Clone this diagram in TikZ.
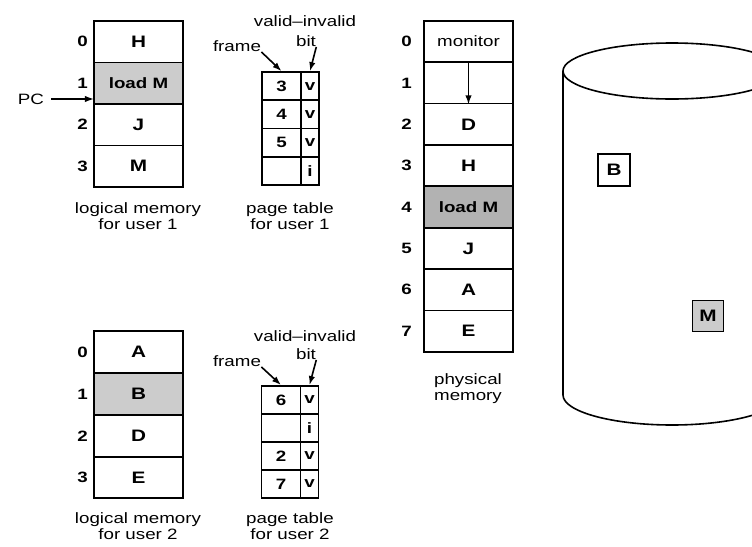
\documentclass[tikz,border=0pt]{standalone}
\usepackage{fontspec}
\setmainfont{Liberation Sans}[FakeStretch=1.25]
\usetikzlibrary{arrows.meta, positioning}

\begin{document}
\begin{tikzpicture}[
    x=0.5pt, y=-0.5pt,
    every node/.style={font=\fontsize{7.5}{8}\selectfont},
    cell/.style={draw, line width=0.8pt, minimum width=44.5pt, minimum height=20.75pt, inner sep=0pt, font=\fontsize{8.3}{9}\selectfont\bfseries},
    fcell/.style={draw, line width=0.8pt, minimum width=19.5pt, minimum height=14.15pt, inner sep=0pt, font=\fontsize{7.5}{8}\selectfont\bfseries},
    vcell/.style={fcell, minimum width=9pt},
    rowlbl/.style={anchor=east, inner sep=0pt, xshift=-2.5pt, font=\fontsize{7.5}{8}\selectfont\bfseries},
    caption/.style={align=center, inner sep=0pt},
    arr/.style={-{Latex[length=4.5pt,width=3.2pt]}, line width=0.8pt},
    shade/.style={fill=gray!40},
    dark/.style={fill=gray!60},
    smalltext/.style={font=\fontsize{7.5}{8}\selectfont\bfseries}
]
\useasboundingbox (0,0) rectangle (752,547);

% Logical memory, user 1
\node[cell] (u1r0) at (138.5,41.75) {H};
\node[cell, shade, smalltext] (u1r1) at (138.5,83.25) {load M};
\node[cell] (u1r2) at (138.5,124.75) {J};
\node[cell] (u1r3) at (138.5,166.25) {M};
\node[rowlbl] at (u1r0.west) {0}; \node[rowlbl] at (u1r1.west) {1};
\node[rowlbl] at (u1r2.west) {2}; \node[rowlbl] at (u1r3.west) {3};
\node[caption] (cap1) at (138,216) {logical memory\\for user 1};
% PC points at the loaded instruction
\node (pc) at (31,99) {PC};
\coordinate (pcin) at (94,99);
\draw[arr] (pc) -- (pcin);

% Page table, user 1
\node[fcell] (t1f0) at (281.5,86.1) {3};  \node[vcell] (t1v0) at (310,86.1) {v};
\node[fcell] (t1f1) at (281.5,114.4) {4}; \node[vcell] (t1v1) at (310,114.4) {v};
\node[fcell] (t1f2) at (281.5,142.6) {5}; \node[vcell] (t1v2) at (310,142.6) {v};
\node[fcell] (t1f3) at (281.5,170.9) {};  \node[vcell] (t1v3) at (310,170.9) {i};
\node[caption] (vi1) at (305,21) {valid–invalid};
\node[caption] (bit1) at (306,41) {bit};
\node[caption] (frm1) at (237,46) {frame};
\draw[arr] (frm1.south east) -- (t1f0.north);
\draw[arr] (bit1.south east) -- (t1v0.north);
\node[caption] (cap2) at (290,216) {page table\\for user 1};

% Physical memory
\node[cell, font=\fontsize{7.5}{8}\selectfont] (pm0) at (468.5,41.5) {monitor};
\node[cell] (pm1) at (468.5,82.9) {};
\node[cell] (pm2) at (468.5,124.3) {D};
\node[cell] (pm3) at (468.5,165.6) {H};
\node[cell, dark, smalltext] (pm4) at (468.5,207) {load M};
\node[cell] (pm5) at (468.5,248.4) {J};
\node[cell] (pm6) at (468.5,289.8) {A};
\node[cell] (pm7) at (468.5,331.1) {E};
\node[rowlbl, xshift=-3pt] at (pm0.west) {0}; \node[rowlbl, xshift=-3pt] at (pm1.west) {1};
\node[rowlbl, xshift=-3pt] at (pm2.west) {2}; \node[rowlbl, xshift=-3pt] at (pm3.west) {3};
\node[rowlbl, xshift=-3pt] at (pm4.west) {4}; \node[rowlbl, xshift=-3pt] at (pm5.west) {5};
\node[rowlbl, xshift=-3pt] at (pm6.west) {6}; \node[rowlbl, xshift=-3pt] at (pm7.west) {7};
\draw[arr] (pm0.south) -- (pm1.south);
\node[caption] (cap3) at (468,389) {physical\\memory};

% Logical memory, user 2
\node[cell] (u2r0) at (138.5,352) {A};
\node[cell, shade] (u2r1) at (138.5,394) {B};
\node[cell] (u2r2) at (138.5,436) {D};
\node[cell] (u2r3) at (138.5,477.5) {E};
\node[rowlbl] at (u2r0.west) {0}; \node[rowlbl] at (u2r1.west) {1};
\node[rowlbl] at (u2r2.west) {2}; \node[rowlbl] at (u2r3.west) {3};
\node[caption] (cap4) at (138,526) {logical memory\\for user 2};

% Page table, user 2
\node[fcell] (t2f0) at (281,400) {6};  \node[vcell] (t2v0) at (309.5,400) {v};
\node[fcell] (t2f1) at (281,428) {}; \node[vcell] (t2v1) at (309.5,428) {i};
\node[fcell] (t2f2) at (281,456) {2};  \node[vcell] (t2v2) at (309.5,456) {v};
\node[fcell] (t2f3) at (281,484) {7};  \node[vcell] (t2v3) at (309.5,484) {v};
\node[caption] (vi2) at (305,336) {valid–invalid};
\node[caption] (bit2) at (306,354) {bit};
\node[caption] (frm2) at (237,361) {frame};
\draw[arr] (frm2.south east) -- (t2f0.north);
\draw[arr] (bit2.south east) -- (t2v0.north);
\node[caption] (cap5) at (290,526) {page table\\for user 2};

% Backing store
\begin{scope}
\clip (0,0) rectangle (752,547);
\draw[line width=0.8pt] (672,71) ellipse [x radius=109, y radius=28];
\draw[line width=0.8pt] (563,71) -- (563,395) arc[start angle=180, end angle=0, x radius=109, y radius=30] -- (781,71);
\end{scope}
\node[cell, minimum width=16pt, minimum height=16pt] (dB) at (614,170) {B};
\node[cell, shade, minimum width=15.5pt, minimum height=15.5pt] (dM) at (708,316) {M};
\end{tikzpicture}
\end{document}
